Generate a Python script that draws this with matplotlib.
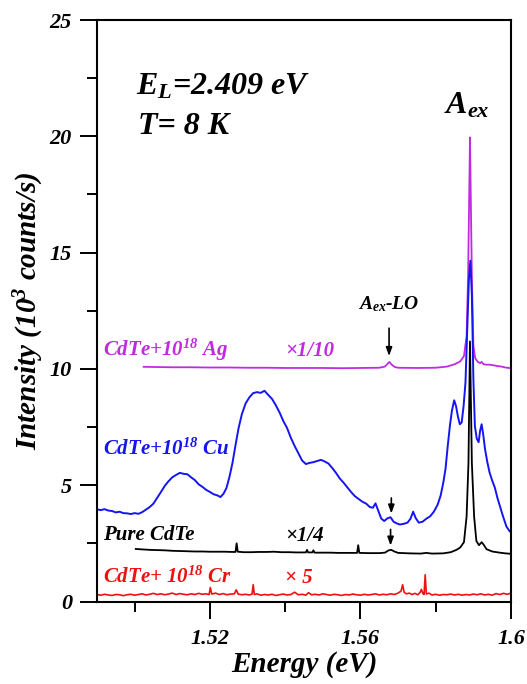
import matplotlib
matplotlib.use("Agg")
import matplotlib.pyplot as plt

# ---- data (energy in eV, intensity in 10^3 counts/s) ----
ag_x = [1.5024, 1.5060, 1.5100, 1.5150, 1.5200, 1.5250, 1.5300, 1.5350, 1.5400, 1.5450,
        1.5500, 1.5550, 1.5600, 1.5650, 1.5665, 1.5672, 1.5677, 1.5682, 1.5690, 1.5700,
        1.5750, 1.5800, 1.5830, 1.5850, 1.5865, 1.5875, 1.5882, 1.5886, 1.5889, 1.5891,
        1.5893, 1.5896, 1.5900, 1.5905, 1.5912, 1.5918, 1.5922, 1.5927, 1.5935, 1.5945,
        1.5955, 1.5965, 1.5975, 1.5985, 1.6000]
ag_y = [10.09, 10.08, 10.07, 10.07, 10.06, 10.06, 10.05, 10.05, 10.04, 10.04,
        10.04, 10.03, 10.04, 10.05, 10.10, 10.22, 10.30, 10.20, 10.09, 10.05,
        10.04, 10.05, 10.10, 10.20, 10.32, 10.55, 11.40, 14.00, 17.50, 19.95,
        17.50, 14.00, 11.00, 10.45, 10.30, 10.25, 10.30, 10.20, 10.18, 10.18,
        10.15, 10.12, 10.10, 10.06, 10.03]

cu_x = [1.4900, 1.4910, 1.4920, 1.4930, 1.4940, 1.4950, 1.4960, 1.4970, 1.4980, 1.4990,
        1.5000, 1.5010, 1.5020, 1.5030, 1.5040, 1.5050, 1.5060, 1.5070, 1.5080, 1.5090,
        1.5100, 1.5110, 1.5120, 1.5130, 1.5140, 1.5150, 1.5160, 1.5170, 1.5180, 1.5190,
        1.5200, 1.5210, 1.5220, 1.5228, 1.5236, 1.5244, 1.5252, 1.5260, 1.5268, 1.5276,
        1.5285, 1.5295, 1.5305, 1.5315, 1.5325, 1.5335, 1.5345, 1.5355, 1.5365, 1.5375,
        1.5385, 1.5395, 1.5405, 1.5415, 1.5425, 1.5435, 1.5445, 1.5455, 1.5465, 1.5475,
        1.5485, 1.5495, 1.5505, 1.5515, 1.5525, 1.5535, 1.5545, 1.5555, 1.5565, 1.5575,
        1.5585, 1.5595, 1.5605, 1.5615, 1.5625, 1.5633, 1.5640, 1.5647, 1.5655, 1.5663,
        1.5672, 1.5680, 1.5688, 1.5696, 1.5705, 1.5715, 1.5725, 1.5733, 1.5740, 1.5747,
        1.5755, 1.5765, 1.5775, 1.5785, 1.5795, 1.5805, 1.5813, 1.5820, 1.5826, 1.5832,
        1.5838, 1.5843, 1.5849, 1.5854, 1.5859, 1.5864, 1.5869, 1.5874, 1.5879, 1.5884,
        1.5888, 1.5892, 1.5896, 1.5900, 1.5904, 1.5909, 1.5914, 1.5918, 1.5922, 1.5926,
        1.5931, 1.5937, 1.5943, 1.5950, 1.5957, 1.5964, 1.5971, 1.5979, 1.5988, 1.5995,
        1.6000]
cu_y = [3.96, 3.93, 3.97, 3.91, 3.89, 3.83, 3.86, 3.80, 3.79, 3.76,
        3.80, 3.77, 3.84, 3.95, 4.06, 4.21, 4.46, 4.71, 4.97, 5.17,
        5.34, 5.44, 5.53, 5.49, 5.47, 5.34, 5.22, 5.04, 4.93, 4.80,
        4.71, 4.61, 4.56, 4.49, 4.63, 4.88, 5.36, 5.96, 6.72, 7.44,
        8.06, 8.52, 8.78, 8.96, 9.00, 8.97, 9.06, 8.88, 8.71, 8.44,
        8.13, 7.76, 7.46, 7.04, 6.69, 6.37, 6.06, 5.91, 5.96, 5.99,
        6.04, 6.09, 6.02, 5.93, 5.74, 5.53, 5.29, 5.11, 4.91, 4.71,
        4.53, 4.41, 4.29, 4.21, 4.06, 4.03, 4.22, 3.92, 3.57, 3.46,
        3.58, 3.62, 3.43, 3.36, 3.31, 3.34, 3.39, 3.56, 3.86, 3.58,
        3.39, 3.43, 3.56, 3.66, 3.86, 4.16, 4.55, 5.10, 5.70, 6.70,
        7.60, 8.20, 8.65, 8.40, 7.95, 7.62, 7.70, 8.40, 9.40, 11.80,
        13.80, 14.65, 13.20, 9.60, 7.55, 7.00, 6.85, 7.35, 7.62, 7.20,
        6.55, 6.00, 5.55, 5.20, 4.90, 4.45, 4.08, 3.65, 3.22, 3.05,
        2.97]

pure_x = [1.5003, 1.5020, 1.5040, 1.5060, 1.5080, 1.5100, 1.5120, 1.5140, 1.5160, 1.5180,
          1.5200, 1.5220, 1.5240, 1.5260, 1.5268, 1.5271, 1.5274, 1.5290, 1.5310, 1.5330,
          1.5350, 1.5370, 1.5390, 1.5410, 1.5430, 1.5455, 1.5458, 1.5461, 1.5472, 1.5475,
          1.5478, 1.5500, 1.5520, 1.5540, 1.5560, 1.5580, 1.5591, 1.5594, 1.5597, 1.5620,
          1.5650, 1.5665, 1.5675, 1.5682, 1.5690, 1.5700, 1.5730, 1.5760, 1.5775, 1.5790,
          1.5820, 1.5840, 1.5855, 1.5865, 1.5875, 1.5882, 1.5887, 1.5891, 1.5896, 1.5902,
          1.5908, 1.5915, 1.5922, 1.5927, 1.5935, 1.5950, 1.5970, 1.5985, 1.6000]
pure_y = [2.26, 2.24, 2.22, 2.21, 2.20, 2.18, 2.17, 2.16, 2.15, 2.15,
          2.14, 2.14, 2.14, 2.13, 2.13, 2.50, 2.14, 2.12, 2.12, 2.13,
          2.13, 2.14, 2.12, 2.12, 2.11, 2.11, 2.22, 2.11, 2.11, 2.20,
          2.10, 2.10, 2.10, 2.09, 2.09, 2.09, 2.09, 2.42, 2.09, 2.08,
          2.08, 2.10, 2.20, 2.22, 2.15, 2.09, 2.07, 2.06, 2.09, 2.06,
          2.07, 2.12, 2.22, 2.32, 2.55, 3.65, 5.96, 11.18, 5.96, 3.65,
          2.60, 2.42, 2.55, 2.45, 2.25, 2.15, 2.10, 2.07, 2.05]

cr_x = [1.4900, 1.4910, 1.4920, 1.4930, 1.4940, 1.4950, 1.4960, 1.4970, 1.4980, 1.4990,
        1.5000, 1.5010, 1.5020, 1.5030, 1.5040, 1.5050, 1.5060, 1.5070, 1.5080, 1.5090,
        1.5100, 1.5110, 1.5120, 1.5130, 1.5140, 1.5150, 1.5160, 1.5170, 1.5180, 1.5190,
        1.5198, 1.5201, 1.5205, 1.5215, 1.5225, 1.5235, 1.5245, 1.5255, 1.5265, 1.5270,
        1.5275, 1.5285, 1.5295, 1.5305, 1.5312, 1.5315, 1.5318, 1.5325, 1.5335, 1.5345,
        1.5355, 1.5365, 1.5375, 1.5385, 1.5395, 1.5405, 1.5415, 1.5425, 1.5435, 1.5445,
        1.5455, 1.5462, 1.5470, 1.5480, 1.5490, 1.5500, 1.5510, 1.5520, 1.5530, 1.5540,
        1.5550, 1.5560, 1.5570, 1.5580, 1.5590, 1.5600, 1.5610, 1.5620, 1.5630, 1.5640,
        1.5650, 1.5660, 1.5670, 1.5680, 1.5690, 1.5700, 1.5708, 1.5712, 1.5716, 1.5722,
        1.5730, 1.5737, 1.5745, 1.5752, 1.5758, 1.5762, 1.5766, 1.5769, 1.5772, 1.5775,
        1.5782, 1.5790, 1.5800, 1.5810, 1.5820, 1.5830, 1.5840, 1.5850, 1.5860, 1.5870,
        1.5880, 1.5890, 1.5900, 1.5910, 1.5920, 1.5930, 1.5940, 1.5950, 1.5960, 1.5970,
        1.5980, 1.5990, 1.6000]
cr_y = [0.30, 0.27, 0.31, 0.28, 0.26, 0.30, 0.29, 0.25, 0.29, 0.31,
        0.27, 0.30, 0.33, 0.28, 0.31, 0.35, 0.30, 0.33, 0.29, 0.32,
        0.36, 0.30, 0.34, 0.31, 0.29, 0.33, 0.30, 0.35, 0.31, 0.33,
        0.30, 0.60, 0.32, 0.36, 0.30, 0.34, 0.29, 0.32, 0.33, 0.50,
        0.32, 0.29, 0.31, 0.28, 0.32, 0.72, 0.30, 0.33, 0.27, 0.30,
        0.28, 0.31, 0.26, 0.29, 0.32, 0.28, 0.30, 0.40, 0.29, 0.31,
        0.27, 0.38, 0.29, 0.31, 0.28, 0.33, 0.30, 0.27, 0.31, 0.29,
        0.26, 0.30, 0.28, 0.32, 0.29, 0.27, 0.31, 0.28, 0.30, 0.33,
        0.28, 0.31, 0.29, 0.33, 0.30, 0.36, 0.45, 0.72, 0.40, 0.33,
        0.36, 0.30, 0.35, 0.29, 0.38, 0.52, 0.34, 0.30, 1.15, 0.32,
        0.36, 0.28, 0.31, 0.27, 0.30, 0.29, 0.32, 0.28, 0.31, 0.27,
        0.30, 0.28, 0.32, 0.29, 0.33, 0.28, 0.31, 0.27, 0.34, 0.30,
        0.35, 0.31, 0.36]

x_ticks = [1.52, 1.56, 1.60]
x_tick_labels = ["1.52", "1.56", "1.6"]
x_minor = [1.50, 1.54, 1.58]
y_ticks = [0, 5, 10, 15, 20, 25]
y_minor = [2.5, 7.5, 12.5, 17.5, 22.5]

# arrow positions (x, y_from, y_to)
arrows = [(1.5676, 11.75, 10.55), (1.5682, 4.45, 3.78), (1.5680, 3.10, 2.40)]

c_ag = "#C02BE0"
c_cu = "#1515F0"
c_cr = "#F01010"

plt.rcParams["font.family"] = ["Liberation Serif", "DejaVu Serif"]
plt.rcParams["font.weight"] = "bold"
plt.rcParams["font.style"] = "italic"
plt.rcParams["axes.labelweight"] = "bold"
plt.rcParams["mathtext.fontset"] = "custom"
plt.rcParams["mathtext.rm"] = "Liberation Serif:bold:italic"
plt.rcParams["mathtext.it"] = "Liberation Serif:bold:italic"
plt.rcParams["mathtext.bf"] = "Liberation Serif:bold:italic"

fig = plt.figure(figsize=(5.27, 6.84), dpi=100)
ax = fig.add_axes([97 / 527, 1 - 601.5 / 684, (511 - 97) / 527, (601.5 - 20) / 684])

ax.plot(ag_x, ag_y, color=c_ag, lw=1.3)
ax.plot(cu_x, cu_y, color=c_cu, lw=1.4)
ax.plot(pure_x, pure_y, color="black", lw=1.3)
ax.plot(cr_x, cr_y, color=c_cr, lw=1.2)

ax.set_xlim(1.49, 1.60)
ax.set_ylim(0, 25)
ax.set_xticks(x_ticks)
ax.set_xticklabels(x_tick_labels)
ax.set_xticks(x_minor, minor=True)
ax.set_yticks(y_ticks)
ax.set_yticks(y_minor, minor=True)
ax.tick_params(which="major", direction="out", length=12, width=1.4, labelsize=16, pad=6)
ax.tick_params(which="minor", direction="out", length=7, width=1.4)
ax.tick_params(axis="x", which="major", pad=8)
for s in ax.spines.values():
    s.set_linewidth(1.5)

ax.set_xlabel("Energy (eV)", fontsize=21, fontweight="bold", labelpad=1)
ax.set_ylabel("Intensity (10$^3$ counts/s)", fontsize=21, fontweight="bold", labelpad=3)

ax.text(1.5003, 21.8, "$E_L$=2.409 eV", fontsize=23)
ax.text(1.5010, 20.1, "T= 8 K", fontsize=23)
ax.text(1.5883, 21.0, "$A_{ex}$", fontsize=23, ha="center")
ax.text(1.5675, 12.55, "$A_{ex}$-LO", fontsize=14, ha="center")

ax.text(1.4916, 10.55, "CdTe+10$^{18}$ Ag", fontsize=15, color=c_ag)
ax.text(1.5399, 10.55, "×1/10", fontsize=15, color=c_ag)
ax.text(1.4916, 6.3, "CdTe+10$^{18}$ Cu", fontsize=15, color=c_cu)
ax.text(1.4916, 2.65, "Pure CdTe", fontsize=15, color="black")
ax.text(1.5399, 2.6, "×1/4", fontsize=15, color="black")
ax.text(1.4916, 0.8, "CdTe+ 10$^{18}$ Cr", fontsize=15, color=c_cr)
ax.text(1.5399, 0.8, "× 5", fontsize=15, color=c_cr)

for ax_x, y0, y1 in arrows:
    ax.annotate("", xy=(ax_x, y1), xytext=(ax_x, y0),
                arrowprops=dict(arrowstyle="-|>,head_width=0.18,head_length=0.5",
                                color="black", lw=1.2, shrinkA=0, shrinkB=0))

fig.savefig("out.png", dpi=100)
